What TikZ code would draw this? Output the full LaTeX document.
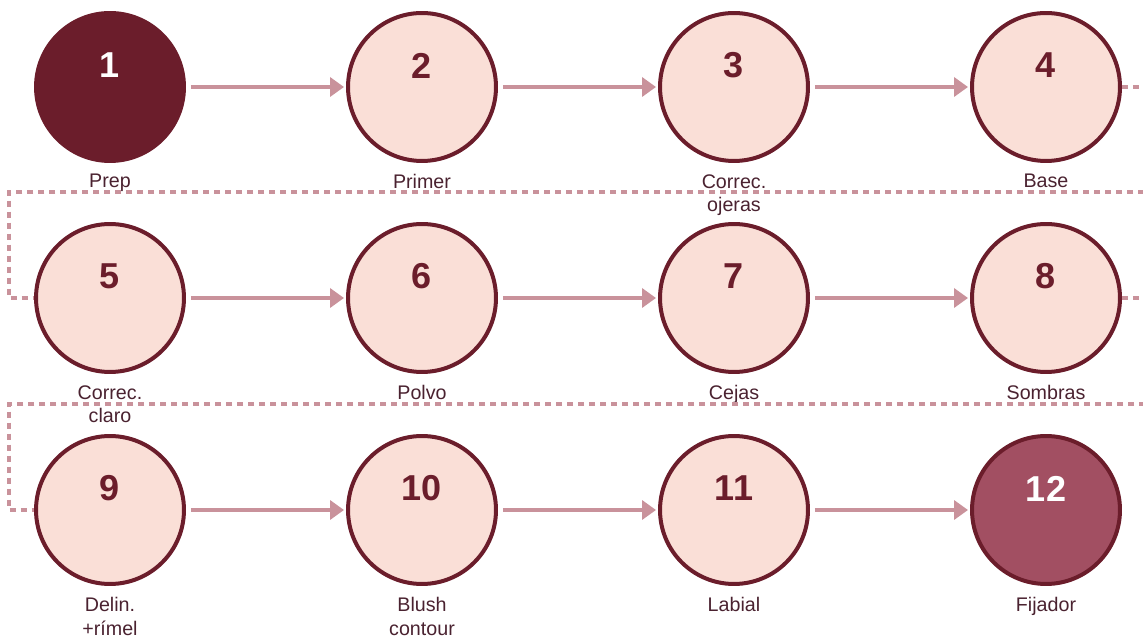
\documentclass[tikz,border=0pt]{standalone}
\usepackage{fontspec}
\setmainfont{Liberation Sans}
\usepackage{tikz}
\usetikzlibrary{arrows.meta}

\definecolor{wine}{HTML}{6B1D2B}
\definecolor{blush}{HTML}{FADFD7}
\definecolor{rose}{HTML}{A24F62}
\definecolor{pinkline}{HTML}{C9929B}
\definecolor{lbltext}{HTML}{4A2230}

\begin{document}
\begin{tikzpicture}[x=0.02cm, y=-0.02cm, inner sep=0pt]
            \clip (0,0) rectangle (1143,638);

            \tikzstyle{myCir}=[circle, minimum size=2.96cm, draw=wine, line width=0.08cm, fill=blush];
            \tikzstyle{myNum}=[font=\fontsize{20.5}{20.5}\selectfont\bfseries, text=wine];
            \tikzstyle{myLbl}=[anchor=north, align=center, text=lbltext, font=\fontsize{11.2}{13.6}\selectfont];
            \tikzstyle{myArr}=[draw=pinkline, line width=0.08cm, -{Triangle[length=0.28cm, width=0.38cm]}, shorten <=0.1cm, shorten >=0.04cm];
            \tikzstyle{myDash}=[draw=pinkline, line width=0.08cm, dash pattern=on 0.12cm off 0.1cm];

            % row 1
            \node[myCir, fill=wine] (1) at (110,87) {};
            \node[myCir] (2) at (422,87) {};
            \node[myCir] (3) at (734,87) {};
            \node[myCir] (4) at (1046,87) {};
            % row 2
            \node[myCir] (5) at (110,298) {};
            \node[myCir] (6) at (422,298) {};
            \node[myCir] (7) at (734,298) {};
            \node[myCir] (8) at (1046,298) {};
            % row 3
            \node[myCir] (9) at (110,510) {};
            \node[myCir] (10) at (422,510) {};
            \node[myCir] (11) at (734,510) {};
            \node[myCir, fill=rose] (12) at (1046,510) {};

            % numbers
            \node[myNum, text=white] (n1) at ([yshift=0.43cm]1.center) {1};
            \node[myNum] (n2) at ([yshift=0.43cm]2.center) {2};
            \node[myNum] (n3) at ([yshift=0.43cm]3.center) {3};
            \node[myNum] (n4) at ([yshift=0.43cm]4.center) {4};
            \node[myNum] (n5) at ([yshift=0.43cm]5.center) {5};
            \node[myNum] (n6) at ([yshift=0.43cm]6.center) {6};
            \node[myNum] (n7) at ([yshift=0.43cm]7.center) {7};
            \node[myNum] (n8) at ([yshift=0.43cm]8.center) {8};
            \node[myNum] (n9) at ([yshift=0.43cm]9.center) {9};
            \node[myNum] (n10) at ([yshift=0.43cm]10.center) {10};
            \node[myNum] (n11) at ([yshift=0.43cm]11.center) {11};
            \node[myNum, text=white] (n12) at ([yshift=0.43cm]12.center) {12};

            % labels
            \node[myLbl] (l1) at ([yshift=-1.74cm]1.center) {Prep};
            \node[myLbl] (l2) at ([yshift=-1.74cm]2.center) {Primer};
            \node[myLbl] (l3) at ([yshift=-1.74cm]3.center) {Correc.\\ojeras};
            \node[myLbl] (l4) at ([yshift=-1.74cm]4.center) {Base};
            \node[myLbl] (l5) at ([yshift=-1.74cm]5.center) {Correc.\\claro};
            \node[myLbl] (l6) at ([yshift=-1.74cm]6.center) {Polvo};
            \node[myLbl] (l7) at ([yshift=-1.74cm]7.center) {Cejas};
            \node[myLbl] (l8) at ([yshift=-1.74cm]8.center) {Sombras};
            \node[myLbl] (l9) at ([yshift=-1.74cm]9.center) {Delin.\\+rímel};
            \node[myLbl] (l10) at ([yshift=-1.74cm]10.center) {Blush\\contour};
            \node[myLbl] (l11) at ([yshift=-1.74cm]11.center) {Labial};
            \node[myLbl] (l12) at ([yshift=-1.74cm]12.center) {Fijador};

            % arrows
            \draw[myArr] (1) -- (2);
            \draw[myArr] (2) -- (3);
            \draw[myArr] (3) -- (4);
            \draw[myArr] (5) -- (6);
            \draw[myArr] (6) -- (7);
            \draw[myArr] (7) -- (8);
            \draw[myArr] (9) -- (10);
            \draw[myArr] (10) -- (11);
            \draw[myArr] (11) -- (12);

            % row wraps
            \coordinate (r1) at (1152,87);
            \coordinate (r2) at (1152,192);
            \coordinate (r3) at (9,192);
            \coordinate (r4) at (1152,298);
            \coordinate (r5) at (1152,404);
            \coordinate (r6) at (9,404);
            \draw[myDash] (4.east) -- (r1) -- (r2) -- (r3) |- (5.west);
            \draw[myDash] (8.east) -- (r4) -- (r5) -- (r6) |- (9.west);
         \end{tikzpicture}
\end{document}
